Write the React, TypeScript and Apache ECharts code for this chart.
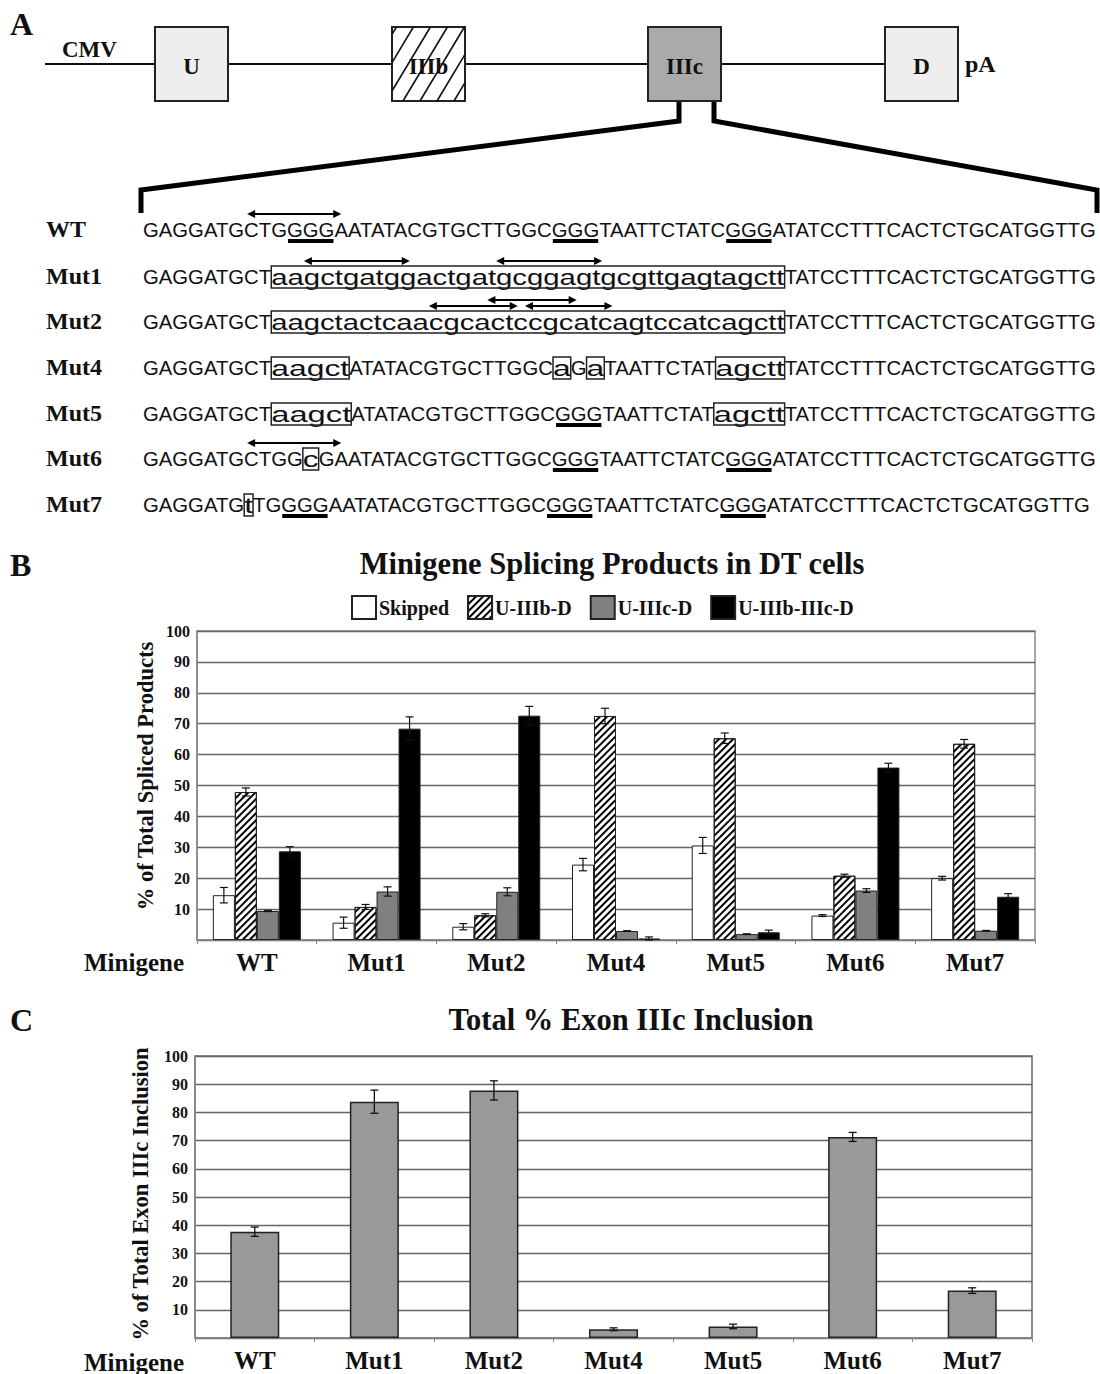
import React, { useEffect, useRef } from 'react';
import * as echarts from 'echarts';

const SERIF = "'Liberation Serif', 'Times New Roman', Times, serif";
const SANS = "'Liberation Sans', Arial, Helvetica, sans-serif";

// ---------- Panel B / C data ----------
const categories = ['WT', 'Mut1', 'Mut2', 'Mut4', 'Mut5', 'Mut6', 'Mut7'];
const legendNames = ['Skipped', 'U-IIIb-D', 'U-IIIc-D', 'U-IIIb-IIIc-D'];
const skipped = [14.5, 5.6, 4.3, 24.4, 30.6, 7.9, 20.0];
const skippedErr = [2.5, 1.8, 1.0, 2.0, 2.6, 0.3, 0.6];
const u3bD = [47.9, 10.7, 8.0, 72.5, 65.3, 20.8, 63.5];
const u3bDErr = [1.3, 0.8, 0.5, 2.5, 1.7, 0.5, 1.4];
const u3cD = [9.4, 15.7, 15.6, 2.9, 1.9, 16.0, 3.0];
const u3cDErr = [0.2, 1.5, 1.3, 0.1, 0.1, 0.6, 0.1];
const u3b3cD = [28.7, 68.4, 72.6, 0.5, 2.5, 55.8, 14.0];
const u3b3cDErr = [1.5, 3.8, 3.0, 0.5, 0.7, 1.4, 1.0];
const inclusion = [37.7, 83.8, 87.8, 3.1, 4.1, 71.3, 16.8];
const inclusionErr = [1.65, 4.1, 3.4, 0.5, 0.8, 1.6, 1.0];
const yMin = 0;
const yMax = 100;
const yInterval = 10;

// ---------- Panel A content ----------
const exonLabels = ['U', 'IIIb', 'IIIc', 'D'];
const rowLabels = ['WT', 'Mut1', 'Mut2', 'Mut4', 'Mut5', 'Mut6', 'Mut7'];
// segment kinds: n = normal, u = underlined, b = boxed (mutated, lowercase)
const seqWT = [['GAGGATGCTG', 'n'], ['GGG', 'u'], ['AATATACGTGCTTGGC', 'n'], ['GGG', 'u'], ['TAATTCTATC', 'n'], ['GGG', 'u'], ['ATATCCTTTCACTCTGCATGGTTG', 'n']];
const seqMut1 = [['GAGGATGCT', 'n'], ['aagctgatggactgatgcggagtgcgttgagtagctt', 'b'], ['TATCCTTTCACTCTGCATGGTTG', 'n']];
const seqMut2 = [['GAGGATGCT', 'n'], ['aagctactcaacgcactccgcatcagtccatcagctt', 'b'], ['TATCCTTTCACTCTGCATGGTTG', 'n']];
const seqMut4 = [['GAGGATGCT', 'n'], ['aagct', 'b'], ['ATATACGTGCTTGGC', 'n'], ['a', 'b'], ['G', 'n'], ['a', 'b'], ['TAATTCTAT', 'n'], ['agctt', 'b'], ['TATCCTTTCACTCTGCATGGTTG', 'n']];
const seqMut5 = [['GAGGATGCT', 'n'], ['aagct', 'b'], ['ATATACGTGCTTGGC', 'n'], ['GGG', 'u'], ['TAATTCTAT', 'n'], ['agctt', 'b'], ['TATCCTTTCACTCTGCATGGTTG', 'n']];
const seqMut6 = [['GAGGATGCTGG', 'n'], ['c', 'b'], ['GAATATACGTGCTTGGC', 'n'], ['GGG', 'u'], ['TAATTCTATC', 'n'], ['GGG', 'u'], ['ATATCCTTTCACTCTGCATGGTTG', 'n']];
const seqMut7 = [['GAGGATG', 'n'], ['t', 'b'], ['TG', 'n'], ['GGG', 'u'], ['AATATACGTGCTTGGC', 'n'], ['GGG', 'u'], ['TAATTCTATC', 'n'], ['GGG', 'u'], ['ATATCCTTTCACTCTGCATGGTTG', 'n']];
const seqRows = [seqWT, seqMut1, seqMut2, seqMut4, seqMut5, seqMut6, seqMut7];
// double-headed arrows: [row, start char index, end char index, level]
const arrows = [
  [0, 7.2, 13.5, 0],
  [1, 11, 18.6, 0],
  [1, 25, 32.1, 0],
  [2, 20, 26.3, 0],
  [2, 23.8, 30.2, 1],
  [2, 26.8, 33, 0],
  [5, 7.2, 13.5, 0],
];

// ---------- layout constants ----------
const ROW_Y = [229, 276, 321, 367, 413, 458, 504];
const SEQ_X = 143;
const SEQ_END = 1096;
const ROW_FIT = [true, true, true, true, true, true, false];

function buildPanelA(): any[] {
  const els: any[] = [];
  const canvas = document.createElement('canvas');
  const ctx = canvas.getContext('2d') as CanvasRenderingContext2D;
  const upFont = `21px ${SANS}`;
  const lowFont = `22px ${SANS}`;
  const measure = (t: string, f: string) => {
    ctx.font = f;
    return ctx.measureText(t).width;
  };
  const wtNatural = seqWT.reduce((a, s) => a + measure(s[0], upFont), 0);
  const upScale = (SEQ_END - SEQ_X) / wtNatural;
  const wtWidth = SEQ_END - SEQ_X;

  // backbone line
  els.push({ type: 'line', shape: { x1: 45, y1: 64, x2: 885, y2: 64 }, style: { stroke: '#111', lineWidth: 2 }, z: 1 });
  const boxX = [155, 392, 648, 885];
  const boxFill = ['#eeeeee', '#ffffff', '#aaaaaa', '#eeeeee'];
  exonLabels.forEach((lab, i) => {
    els.push({ type: 'rect', shape: { x: boxX[i], y: 27, width: 73, height: 74 }, style: { fill: boxFill[i], stroke: '#222', lineWidth: 2 }, z: 2 });
    if (lab === 'IIIb') {
      const x0 = boxX[i], x1 = boxX[i] + 73, yT = 27, yB = 101, k = 0.6;
      for (let c = x0 - 40; c < x1; c += 17) {
        const ya = Math.min(yB, yB - (x0 - c) / k);
        const yb = Math.max(yT, yB - (x1 - c) / k);
        if (ya - yb > 2) {
          els.push({ type: 'line', shape: { x1: c + (yB - ya) * k, y1: ya, x2: c + (yB - yb) * k, y2: yb }, style: { stroke: '#111', lineWidth: 1.6 }, z: 3 });
        }
      }
    }
    els.push({ type: 'text', x: boxX[i] + 36.5, y: 66, style: { text: lab, font: `bold 23px ${SERIF}`, fill: '#111', align: 'center', verticalAlign: 'middle' }, z: 4 });
  });
  els.push({ type: 'text', x: 62, y: 49, style: { text: 'CMV', font: `bold 23px ${SERIF}`, fill: '#111', align: 'left', verticalAlign: 'middle' }, z: 4 });
  els.push({ type: 'text', x: 965, y: 64, style: { text: 'pA', font: `bold 24px ${SERIF}`, fill: '#111', align: 'left', verticalAlign: 'middle' }, z: 4 });
  // zoom bracket
  els.push({ type: 'polyline', shape: { points: [[679, 101], [679, 121], [141, 190], [141, 213]] }, style: { stroke: '#000', lineWidth: 5, fill: null, lineJoin: 'miter' }, z: 1 });
  els.push({ type: 'polyline', shape: { points: [[714, 101], [714, 121], [1097, 190], [1097, 213]] }, style: { stroke: '#000', lineWidth: 5, fill: null, lineJoin: 'miter' }, z: 1 });

  const rowCharX: number[][] = [];
  seqRows.forEach((segs, r) => {
    const y = ROW_Y[r];
    els.push({ type: 'text', x: 46, y, style: { text: rowLabels[r], font: `bold 24px ${SERIF}`, fill: '#111', align: 'left', verticalAlign: 'middle' }, z: 4 });
    let normalW = 0, lowerW = 0;
    segs.forEach(([t, k]) => {
      if (k === 'b') lowerW += measure(t, lowFont);
      else normalW += measure(t, upFont) * upScale;
    });
    const stretch = lowerW > 0 ? (ROW_FIT[r] ? (wtWidth - normalW) / lowerW : 1.45) : 1;
    let x = SEQ_X;
    const charX: number[] = [];
    segs.forEach(([t, k]) => {
      const f = k === 'b' ? lowFont : upFont;
      const sc = k === 'b' ? stretch : upScale;
      for (let j = 0; j < t.length; j++) charX.push(x + measure(t.slice(0, j), f) * sc);
      const w = measure(t, f) * sc;
      els.push({ type: 'text', x, y: k === 'b' ? y + 1 : y, scaleX: sc, style: { text: t, font: f, fill: '#111', align: 'left', verticalAlign: 'middle' }, z: 4 });
      if (k === 'b') {
        els.push({ type: 'rect', shape: { x: x, y: y - 10, width: w, height: 22 }, style: { fill: null, stroke: '#222', lineWidth: 1.5 }, z: 5 });
      } else if (k === 'u') {
        els.push({ type: 'rect', shape: { x: x + 1, y: y + 10, width: w - 2, height: 4 }, style: { fill: '#000' }, z: 5 });
      }
      x += w;
    });
    charX.push(x);
    rowCharX.push(charX);
  });

  const xAt = (cx: number[], f: number) => {
    const i = Math.min(Math.floor(f), cx.length - 2);
    return cx[i] + (f - i) * (cx[i + 1] - cx[i]);
  };
  arrows.forEach(([r, s, e, lvl]) => {
    const cx = rowCharX[r];
    const xa = xAt(cx, s), xb = xAt(cx, e);
    const y = ROW_Y[r] - 15 - lvl * 6;
    els.push({ type: 'line', shape: { x1: xa + 3, y1: y, x2: xb - 3, y2: y }, style: { stroke: '#000', lineWidth: 1.8 }, z: 6 });
    els.push({ type: 'polygon', shape: { points: [[xa, y], [xa + 8, y - 4], [xa + 8, y + 4]] }, style: { fill: '#000' }, z: 6 });
    els.push({ type: 'polygon', shape: { points: [[xb, y], [xb - 8, y - 4], [xb - 8, y + 4]] }, style: { fill: '#000' }, z: 6 });
  });

  // panel letters
  [['A', 24], ['B', 565], ['C', 1020]].forEach(([t, y]) => {
    els.push({ type: 'text', x: 10, y, style: { text: t, font: `bold 32px ${SERIF}`, fill: '#111', align: 'left', verticalAlign: 'middle' }, z: 4 });
  });
  const txt = (text: string, x: number, y: number, size: number, extra: any = {}) => ({
    type: 'text', x, y, ...extra,
    style: { text, font: `bold ${size}px ${SERIF}`, fill: '#111', align: extra.align || 'center', verticalAlign: 'middle' }, z: 4,
  });
  els.push(txt('Minigene Splicing Products in DT cells', 612, 564, 30.5));
  els.push(txt('Total % Exon IIIc Inclusion', 631, 1020, 30.5));
  els.push(txt('% of Total Spliced Products', 145, 776, 22.5, { rotation: Math.PI / 2 }));
  els.push(txt('% of Total Exon IIIc Inclusion', 140, 1194, 22.5, { rotation: Math.PI / 2 }));
  els.push(txt('Minigene', 84, 962, 25, { align: 'left' }));
  els.push(txt('Minigene', 84, 1362, 25, { align: 'left' }));
  return els;
}

const GROUP_GAP = 0.265;

function errRenderB(params: any, api: any) {
  const ci = api.value(0), v = api.value(1), e = api.value(2), k = api.value(3);
  const band = api.size([1, 0])[0];
  const bw = (band * (1 - GROUP_GAP)) / 4;
  const c = api.coord([ci, v]);
  const x = c[0] + (k - 1.5) * bw;
  const yt = api.coord([ci, v + e])[1];
  const yb = api.coord([ci, Math.max(0, v - e)])[1];
  const st = { stroke: '#111', lineWidth: 1.2 };
  return {
    type: 'group',
    children: [
      { type: 'line', shape: { x1: x, y1: yt, x2: x, y2: yb }, style: st },
      { type: 'line', shape: { x1: x - 4, y1: yt, x2: x + 4, y2: yt }, style: st },
      { type: 'line', shape: { x1: x - 4, y1: yb, x2: x + 4, y2: yb }, style: st },
    ],
  };
}

function errRenderC(params: any, api: any) {
  const ci = api.value(0), v = api.value(1), e = api.value(2);
  const c = api.coord([ci, v]);
  const x = c[0];
  const yt = api.coord([ci, v + e])[1];
  const yb = api.coord([ci, Math.max(0, v - e)])[1];
  const st = { stroke: '#111', lineWidth: 1.3 };
  return {
    type: 'group',
    children: [
      { type: 'line', shape: { x1: x, y1: yt, x2: x, y2: yb }, style: st },
      { type: 'line', shape: { x1: x - 4, y1: yt, x2: x + 4, y2: yt }, style: st },
      { type: 'line', shape: { x1: x - 4, y1: yb, x2: x + 4, y2: yb }, style: st },
    ],
  };
}

function makeAxes(gridIndex: number) {
  const x = {
    type: 'category', gridIndex, data: categories,
    axisLine: { lineStyle: { color: '#888', width: 1.5 } },
    axisTick: { show: true, alignWithLabel: false, length: 4, lineStyle: { color: '#888' } },
    axisLabel: { fontFamily: SERIF, fontWeight: 'bold', fontSize: 25, color: '#111', margin: 10 },
  };
  const y = {
    type: 'value', gridIndex, min: yMin, max: yMax, interval: yInterval,
    axisLine: { show: true, lineStyle: { color: '#888', width: 1.5 } },
    axisTick: { show: false },
    splitLine: { lineStyle: { color: '#666', width: 1.3 } },
    axisLabel: { fontFamily: SERIF, fontWeight: 'bold', fontSize: 16, color: '#111', margin: 7, formatter: (v: number) => (v === 0 ? '' : String(v)) },
  };
  return { x, y };
}

export default function App() {
  const ref = useRef<HTMLDivElement>(null);
  useEffect(() => {
    if (!ref.current) return;
    const chart = echarts.init(ref.current, null, { renderer: 'svg' });
    const a0 = makeAxes(0);
    const a1 = makeAxes(1);
    const barValues = [skipped, u3bD, u3cD, u3b3cD];
    const barErrs = [skippedErr, u3bDErr, u3cDErr, u3b3cDErr];
    const barColors = ['#ffffff', '#ffffff', '#808080', '#000000'];
    const barSeries: any[] = barValues.map((vals, k) => ({
      type: 'bar', name: legendNames[k], xAxisIndex: 0, yAxisIndex: 0, data: vals,
      barGap: '0%', barCategoryGap: `${GROUP_GAP * 100}%`,
      itemStyle: {
        color: barColors[k], borderColor: '#222', borderWidth: 1,
        ...(k === 1 ? { decal: { symbol: 'rect', symbolSize: 1, dashArrayX: [1, 0], dashArrayY: [1.2, 2.8], rotation: -Math.PI / 4, color: '#000', backgroundColor: '#fff' } } : {}),
      },
      z: 2,
    }));
    const errDataB: number[][] = [];
    barValues.forEach((vals, k) => vals.forEach((v, i) => errDataB.push([i, v, barErrs[k][i], k])));
    const option: any = {
      animation: false,
      backgroundColor: '#fff',
      legend: {
        data: legendNames, left: 346, top: 590, itemWidth: 24, itemHeight: 23, itemGap: 18, icon: 'rect',
        textStyle: { fontFamily: SERIF, fontWeight: 'bold', fontSize: 20, color: '#111', padding: [0, 0, 0, -2] },
      },
      grid: [
        { left: 197, top: 631, width: 838, height: 309, show: true, borderColor: '#888', borderWidth: 1.5, containLabel: false },
        { left: 195, top: 1056, width: 837, height: 282, show: true, borderColor: '#666', borderWidth: 1.5, containLabel: false },
      ],
      xAxis: [a0.x, a1.x],
      yAxis: [a0.y, a1.y],
      series: [
        ...barSeries,
        { type: 'custom', name: 'errB', xAxisIndex: 0, yAxisIndex: 0, data: errDataB, encode: { x: 0, y: 1 }, renderItem: errRenderB, z: 5, silent: true },
        { type: 'bar', name: 'Inclusion', xAxisIndex: 1, yAxisIndex: 1, data: inclusion, barWidth: 49, itemStyle: { color: '#999999', borderColor: '#222', borderWidth: 1.5 }, z: 2 },
        { type: 'custom', name: 'errC', xAxisIndex: 1, yAxisIndex: 1, data: inclusion.map((v, i) => [i, v, inclusionErr[i]]), encode: { x: 0, y: 1 }, renderItem: errRenderC, z: 5, silent: true },
      ],
      graphic: { elements: buildPanelA() },
    };
    chart.setOption(option);
    return () => chart.dispose();
  }, []);
  return <div ref={ref} style={{ position: 'absolute', left: 0, top: 0, width: 1100, height: 1374, background: '#fff' }} />;
}
